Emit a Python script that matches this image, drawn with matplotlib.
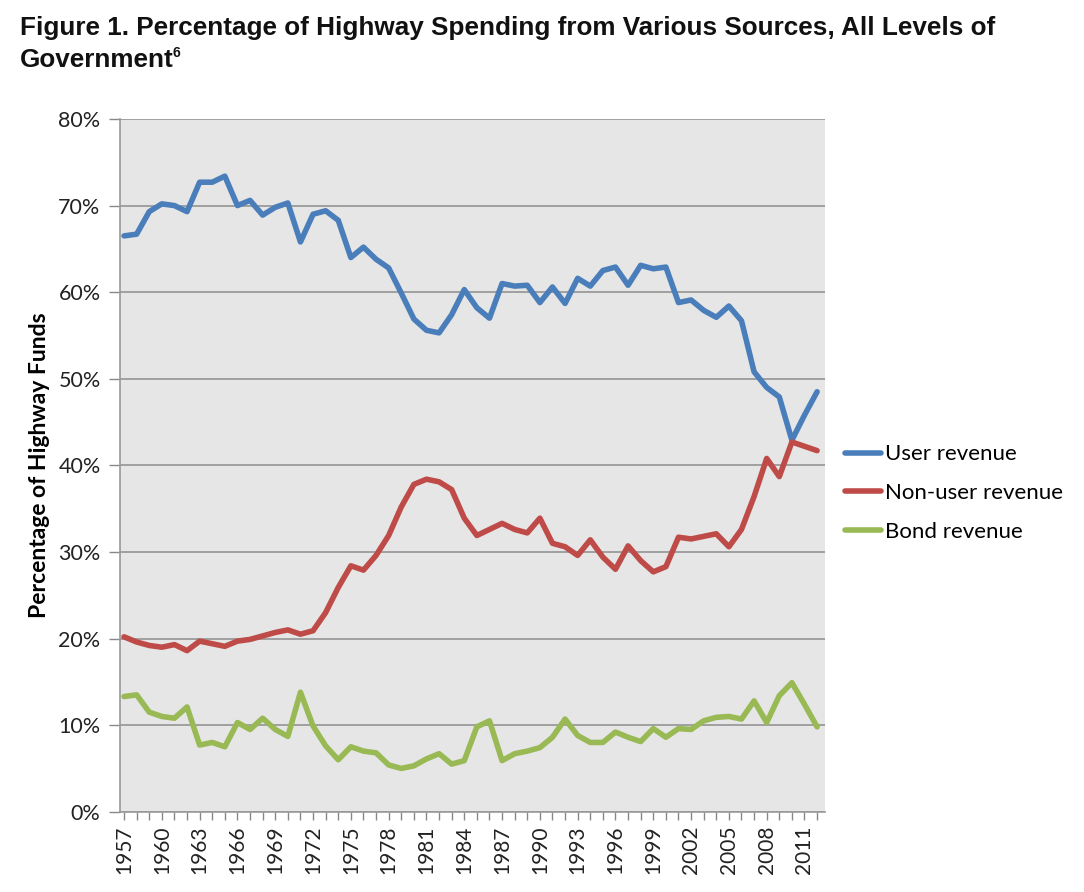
import numpy as np
import matplotlib.pyplot as plt
from matplotlib.ticker import FixedLocator, FuncFormatter

# Data (percent of highway funds)
years = list(range(1957, 2013))

user_revenue = [
    66.5, 66.7, 69.3, 70.2, 70.0, 69.3, 72.7, 72.7, 73.4, 70.0,
    70.6, 68.9, 69.8, 70.3, 65.8, 69.0, 69.4, 68.3, 64.0, 65.2,
    63.8, 62.8, 59.9, 56.9, 55.6, 55.3, 57.4, 60.3, 58.2, 57.0,
    61.0, 60.7, 60.8, 58.8, 60.6, 58.7, 61.6, 60.7, 62.5, 62.9,
    60.8, 63.1, 62.7, 62.9, 58.8, 59.1, 57.9, 57.1, 58.4, 56.7,
    50.8, 49.0, 47.9, 42.9, 45.8, 48.5,
]
non_user_revenue = [
    20.2, 19.6, 19.2, 19.0, 19.3, 18.6, 19.7, 19.4, 19.1, 19.7,
    19.9, 20.3, 20.7, 21.0, 20.5, 20.9, 23.0, 25.9, 28.4, 27.9,
    29.6, 31.9, 35.2, 37.8, 38.4, 38.1, 37.2, 33.9, 31.9, 32.6,
    33.3, 32.6, 32.2, 33.9, 31.0, 30.6, 29.6, 31.4, 29.4, 28.0,
    30.7, 29.0, 27.7, 28.3, 31.7, 31.5, 31.8, 32.1, 30.6, 32.6,
    36.4, 40.8, 38.7, 42.7, 42.2, 41.7,
]
bond_revenue = [
    13.3, 13.5, 11.5, 11.0, 10.8, 12.1, 7.7, 8.0, 7.5, 10.3,
    9.5, 10.8, 9.5, 8.7, 13.8, 9.9, 7.6, 6.0, 7.5, 7.0,
    6.8, 5.4, 5.0, 5.3, 6.1, 6.7, 5.5, 5.9, 9.8, 10.5,
    5.9, 6.7, 7.0, 7.4, 8.6, 10.7, 8.8, 8.0, 8.0, 9.2,
    8.6, 8.1, 9.6, 8.6, 9.6, 9.5, 10.5, 10.9, 11.0, 10.7,
    12.8, 10.3, 13.4, 14.9, 12.4, 9.8,
]

series_names = ["User revenue", "Non-user revenue", "Bond revenue"]
series_colors = ["#4A7EBB", "#BE4B48", "#98B954"]

label_font = ["Lato", "DejaVu Sans"]
title_font = ["Liberation Sans", "DejaVu Sans"]

fig = plt.figure(figsize=(10.84, 8.92), dpi=100)
ax = fig.add_axes([0.1107, 0.09, 0.6504, 0.7766])
ax.set_facecolor("#E6E6E6")

for vals, name, col in zip([user_revenue, non_user_revenue, bond_revenue],
                           series_names, series_colors):
    ax.plot(years, vals, color=col, linewidth=4.0, label=name,
            solid_joinstyle="round", solid_capstyle="round", zorder=3)

ax.set_xlim(1956.68, 2012.63)
ax.set_ylim(0, 80)

# y axis
ax.set_yticks(np.arange(0, 81, 10))
ax.yaxis.set_major_formatter(FuncFormatter(lambda v, p: f"{int(v)}%"))
ax.grid(axis="y", color="#A0A0A0", linewidth=1.4, zorder=1)
ax.set_axisbelow(True)

# x axis: tick marks every year, labels every 3 years
ax.xaxis.set_major_locator(FixedLocator(years[::3]))
ax.xaxis.set_minor_locator(FixedLocator(years))
ax.set_xticklabels([str(y) for y in years[::3]], rotation=90)

ax.tick_params(axis="y", direction="out", length=8, width=1, color="#888888",
               pad=6, labelsize=15.5, labelcolor="#222222")
ax.tick_params(axis="x", which="both", direction="out", length=6, width=1,
               color="#888888", pad=4, labelsize=15, labelcolor="#222222")
for lab in ax.get_xticklabels() + ax.get_yticklabels():
    lab.set_family(label_font)

for side in ["top", "right"]:
    ax.spines[side].set_visible(False)
for side in ["left", "bottom"]:
    ax.spines[side].set_color("#999999")
    ax.spines[side].set_linewidth(1.2)

ax.set_ylabel("Percentage of Highway Funds", fontsize=16.5, fontweight="bold",
              family=label_font, labelpad=6)

# legend to the right of the plot
fig.legend(loc="center left", bbox_to_anchor=(0.7795, 0.447), frameon=False,
           prop={"family": label_font, "size": 16}, handlelength=1.6,
           handletextpad=0.2, labelspacing=0.85, borderpad=0, borderaxespad=0)

# title
t1 = fig.text(0.018, 0.982, "Figure 1. Percentage of Highway Spending from Various Sources, All Levels of",
              fontsize=18.8, fontweight="bold", family=title_font, va="top", ha="left",
              color="#111111")
t2 = fig.text(0.018, 0.946, "Government", fontsize=18.8, fontweight="bold",
              family=title_font, va="top", ha="left", color="#111111")
fig.canvas.draw()
bb = t2.get_window_extent()
fx = bb.x1 / fig.bbox.width
fig.text(fx - 0.001, 0.948, "6", fontsize=10, fontweight="bold", family=title_font,
         va="top", ha="left", color="#111111")

plt.savefig("out.png", dpi=100)
plt.close()
